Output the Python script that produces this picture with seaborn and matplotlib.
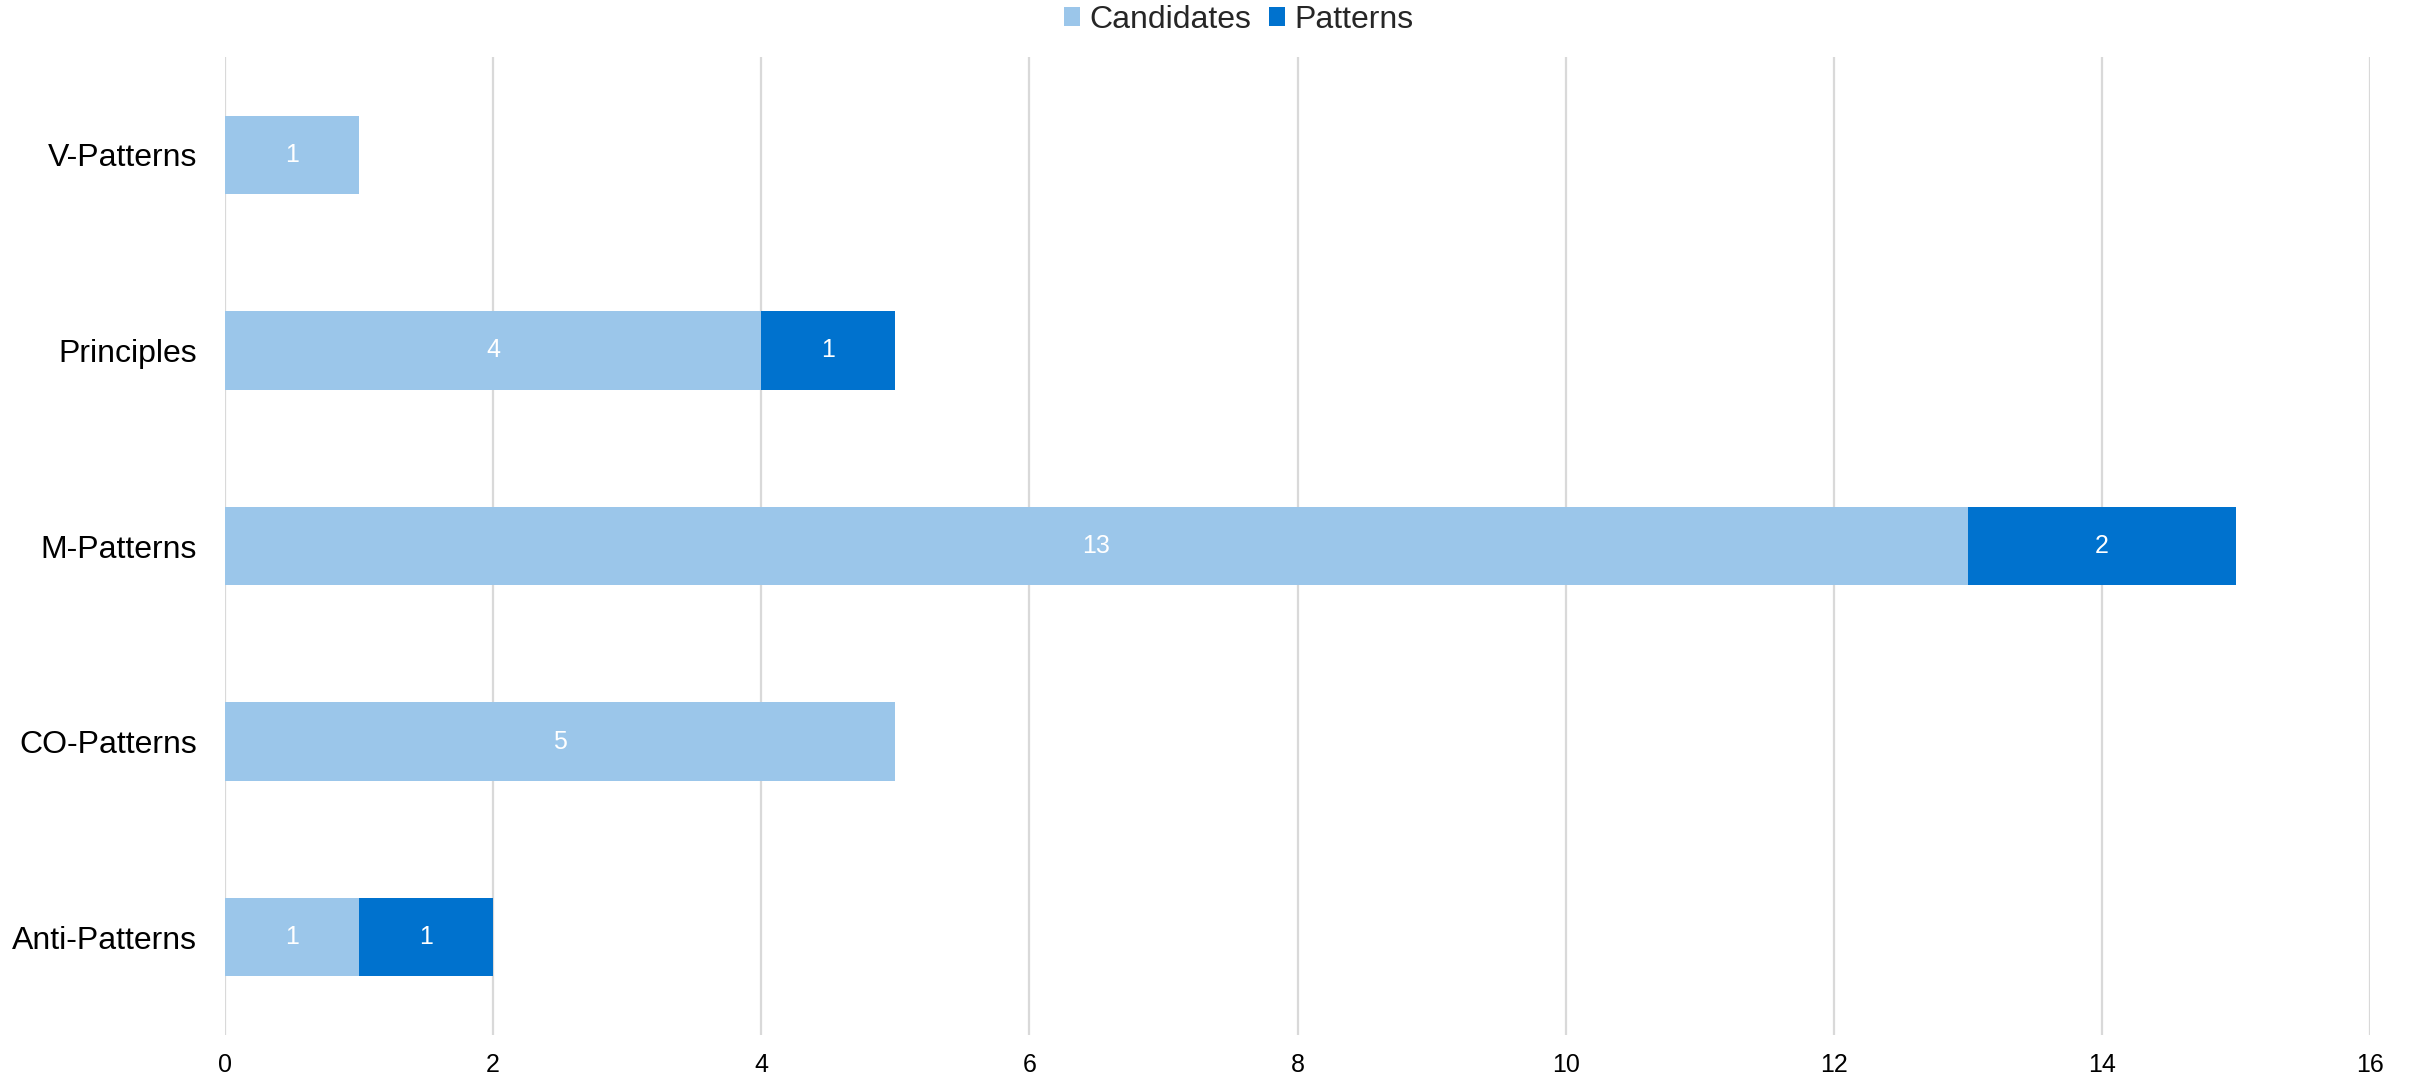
import matplotlib
matplotlib.use("Agg")
import matplotlib.pyplot as plt
import seaborn as sns
import pandas as pd
from matplotlib.patches import Patch

categories = ["V-Patterns", "Principles", "M-Patterns", "CO-Patterns", "Anti-Patterns"]
candidates = [1, 4, 13, 5, 1]
patterns = [0, 1, 2, 0, 1]
x_ticks = [0, 2, 4, 6, 8, 10, 12, 14, 16]

c_light = "#9BC6EA"
c_dark = "#0072CE"

sns.set_theme(style="white")
plt.rcParams["font.family"] = ["Liberation Sans", "DejaVu Sans"]

df = pd.DataFrame({"category": categories, "Candidates": candidates, "Patterns": patterns})
df["total"] = df["Candidates"] + df["Patterns"]

fig = plt.figure(figsize=(24.15, 10.76), dpi=100)
ax = fig.add_axes([225 / 2415, 1 - 1035 / 1076, (2370 - 225) / 2415, (1035 - 57) / 1076])

sns.barplot(data=df, y="category", x="total", order=categories, color=c_dark,
            saturation=1, width=0.4, orient="h", ax=ax, zorder=3, linewidth=0)
sns.barplot(data=df, y="category", x="Candidates", order=categories, color=c_light,
            saturation=1, width=0.4, orient="h", ax=ax, zorder=4, linewidth=0)

for i, (c, p) in enumerate(zip(candidates, patterns)):
    if c:
        ax.text(c / 2, i, str(c), color="white", ha="center", va="center", fontsize=18, zorder=5)
    if p:
        ax.text(c + p / 2, i, str(p), color="white", ha="center", va="center", fontsize=18, zorder=5)

ax.set_xlim(0, 16)
ax.set_ylim(4.5, -0.5)
ax.set_xticks(x_ticks)
ax.set_xticklabels([str(t) for t in x_ticks])
ax.xaxis.grid(True, color="#D9D9D9", linewidth=1.6, zorder=0)
ax.yaxis.grid(False)
ax.set_axisbelow(True)
for s in ax.spines.values():
    s.set_visible(False)
ax.tick_params(axis="y", length=0, pad=20, labelsize=23, labelcolor="black")
ax.tick_params(axis="x", length=0, pad=13, labelsize=18, labelcolor="black")
ax.set_xlabel("")
ax.set_ylabel("")

handles = [Patch(facecolor=c_light, edgecolor="none"), Patch(facecolor=c_dark, edgecolor="none")]
fig.legend(handles, ["Candidates", "Patterns"], loc="center", bbox_to_anchor=(1239 / 2415, 1 - 20 / 1076),
           ncol=2, frameon=False, fontsize=23, handlelength=0.5, handleheight=0.55,
           handletextpad=0.3, columnspacing=0.55, borderaxespad=0, borderpad=0)

fig.savefig("out.png", dpi=100)
